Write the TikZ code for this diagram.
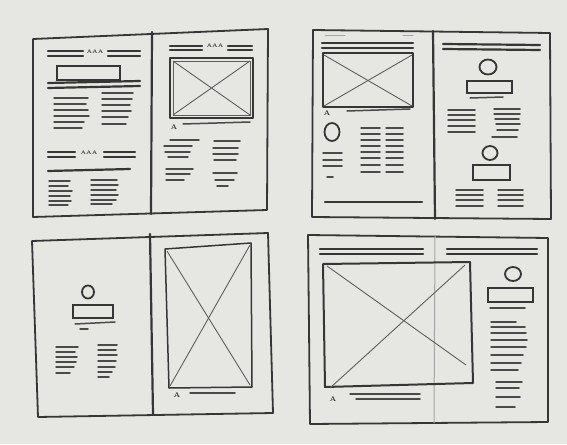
\documentclass[tikz,border=0pt]{standalone}
\usetikzlibrary{positioning}
\definecolor{paper}{HTML}{E6E6E3}
\definecolor{pencil}{HTML}{363636}

\tikzset{
  frame/.style={draw=pencil, line width=1.8pt, line join=round},
  spine/.style={draw=pencil, line width=2.2pt, line cap=round},
  headline/.style={draw=pencil, line width=2.2pt, line cap=round},
  txtline/.style={draw=pencil!90, line width=1.5pt, line cap=round},
  faint/.style={draw=pencil!45, line width=0.8pt, line cap=round},
  photo/.style={draw=pencil, line width=2pt, line join=round},
  cross/.style={draw=pencil!80, line width=0.9pt},
  titlebox/.style={draw=pencil, line width=1.5pt},
  aaa/.style={font=\tiny\bfseries, text=pencil, inner sep=0pt},
  capA/.style={font=\scriptsize\bfseries, text=pencil, inner sep=0pt},
}

\begin{document}
\begin{tikzpicture}[x=1pt,y=-1pt]
  \fill[paper] (0,0) rectangle (567,444);
  \useasboundingbox (0,0) rectangle (567,444);

  % ---------- top left spread ----------
  \draw[frame] (33,39) -- (268,29) -- (267,210) -- (33,217) -- cycle;
  \draw[spine] (152,32) -- (151,214);
  % left page
  \foreach \y in {51,56} {
    \draw[headline] (48,\y) -- (83,\y);
    \draw[headline] (108,\y) -- (140,\y);
  }
  \node[aaa] (tlheadA) at (95,52) {AAA};
  \draw[titlebox] (57,66) rectangle (120,80);
  \draw[headline] (48,83) -- (140,81);
  \draw[headline] (48,88) -- (140,86);
  \foreach \y/\e in {98/88, 104/86, 110/88, 116/89, 122/84, 128/82}
    \draw[txtline] (54,\y) -- (\e,\y);
  \foreach \y/\e in {93/133, 99/132, 105/130, 111/131, 117/128, 124/126}
    \draw[txtline] (102,\y) -- (\e,\y);
  \foreach \y in {152,157} {
    \draw[headline] (48,\y) -- (75,\y);
    \draw[headline] (104,\y) -- (135,\y);
  }
  \node[aaa] (tlheadB) at (89,153) {AAA};
  \draw[headline] (48,171) -- (130,169);
  \foreach \y/\e in {181/70, 186/68, 191/72, 196/70, 201/71, 205/68}
    \draw[txtline] (49,\y) -- (\e,\y);
  \foreach \y/\e in {180/117, 185/118, 190/116, 195/118, 200/116, 204/112}
    \draw[txtline] (91,\y) -- (\e,\y);
  % right page
  \foreach \y in {46,50} {
    \draw[headline] (170,\y) -- (202,\y);
    \draw[headline] (228,\y) -- (252,\y);
  }
  \node[aaa] (trheadA) at (215,46) {AAA};
  \draw[photo] (170,58) rectangle (253,118);
  \draw[cross] (173,61) rectangle (250,115);
  \draw[cross] (173,61) -- (250,115);
  \draw[cross] (250,61) -- (173,115);
  \node[capA] (tlcap) at (174,127) {A};
  \draw[txtline] (183,124) -- (250,122);
  \foreach \y/\s/\e in {140/170/199, 146/164/192, 152/165/190, 157/168/188, 169/166/193, 174/166/190, 180/166/184}
    \draw[txtline] (\s,\y) -- (\e,\y);
  \foreach \y/\s/\e in {141/214/240, 148/213/238, 154/213/238, 160/214/236, 173/213/237, 180/215/234, 186/217/228}
    \draw[txtline] (\s,\y) -- (\e,\y);

  % ---------- top right spread ----------
  \draw[frame] (313,30) -- (550,33) -- (551,219) -- (312,217) -- cycle;
  \draw[spine] (433,31) -- (435,219);
  % left page
  \draw[faint] (325,35) -- (345,35);
  \draw[faint] (403,35) -- (413,35);
  \draw[headline] (322,43) -- (413,43);
  \draw[headline] (322,48) -- (413,48);
  \draw[photo] (323,53) rectangle (413,107);
  \draw[cross] (324,55) -- (412,106);
  \draw[cross] (412,55) -- (324,106);
  \node[capA] (trcap) at (327,113) {A};
  \draw[txtline] (347,111) -- (410,109);
  \draw[frame] (332,132) ellipse [x radius=7.5, y radius=9];
  \foreach \y in {153,160,166}
    \draw[txtline] (323,\y) -- (342,\y);
  \draw[txtline] (327,177) -- (333,177);
  \foreach \y in {128,134,140,146,152,158,165,172} {
    \draw[txtline] (361,\y) -- (380,\y);
    \draw[txtline] (386,\y) -- (403,\y);
  }
  \draw[headline] (325,202) -- (422,202);
  % right page
  \draw[headline] (443,44) -- (540,45);
  \draw[headline] (443,49) -- (540,50);
  \draw[frame] (488,67) ellipse [x radius=8.5, y radius=7.5];
  \draw[titlebox] (467,81) rectangle (512,93);
  \draw[txtline] (470,98) -- (503,97);
  \foreach \y in {110,115,120,126,132}
    \draw[txtline] (448,\y) -- (475,\y);
  \foreach \y/\s/\e in {109/494/520, 114/494/520, 119/495/519, 124/496/520, 130/497/518, 137/492/517}
    \draw[txtline] (\s,\y) -- (\e,\y);
  \draw[frame] (490,153) ellipse [x radius=7.5, y radius=7];
  \draw[titlebox] (473,165) rectangle (510,180);
  \foreach \y in {190,195,200,206} {
    \draw[txtline] (456,\y) -- (483,\y);
    \draw[txtline] (498,\y) -- (523,\y);
  }

  % ---------- bottom left spread ----------
  \draw[frame] (32,241) -- (268,233) -- (273,413) -- (38,417) -- cycle;
  \draw[spine] (150,234) -- (153,414);
  % left page
  \draw[frame] (88,292) ellipse [x radius=6, y radius=6.5];
  \draw[titlebox] (73,305) rectangle (113,318);
  \draw[txtline] (75,324) -- (115,322);
  \draw[txtline] (80,329) -- (88,329);
  \foreach \y/\e in {347/78, 352/75, 357/77, 362/76, 367/74, 373/70}
    \draw[txtline] (56,\y) -- (\e,\y);
  \foreach \y/\e in {345/117, 350/116, 355/117, 361/116, 367/115, 372/112, 377/109}
    \draw[txtline] (98,\y) -- (\e,\y);
  % right page
  \draw[photo, line width=1.5pt] (165,249) -- (251,243) -- (252,387) -- (169,388) -- cycle;
  \draw[cross] (167,251) -- (250,385);
  \draw[cross] (250,245) -- (170,386);
  \node[capA] (blcap) at (177,395) {A};
  \draw[txtline] (190,393) -- (235,393);

  % ---------- bottom right spread ----------
  \draw[frame] (308,235) -- (548,238) -- (548,422) -- (310,424) -- cycle;
  \draw[faint, line width=1pt] (435,236) -- (434,423);
  \foreach \y in {249,254} {
    \draw[headline] (320,\y) -- (423,\y);
    \draw[headline] (447,\y) -- (537,\y);
  }
  % left page
  \draw[photo] (323,264) -- (470,262) -- (473,383) -- (325,387) -- cycle;
  \draw[cross] (327,266) -- (466,365);
  \draw[cross] (465,265) -- (330,388);
  \node[capA] (brcap) at (333,399) {A};
  \draw[txtline] (350,394) -- (420,394);
  \draw[txtline] (356,399) -- (420,399);
  % right page
  \draw[frame] (513,274) ellipse [x radius=8, y radius=7];
  \draw[titlebox] (488,288) rectangle (533,302);
  \draw[txtline] (490,308) -- (525,308);
  \foreach \y/\e in {322/516, 327/525, 333/526, 340/527, 347/526, 355/523, 363/521, 370/518}
    \draw[txtline] (491,\y) -- (\e,\y);
  \foreach \y/\e in {382/522, 388/519, 397/520, 407/515}
    \draw[txtline] (496,\y) -- (\e,\y);
\end{tikzpicture}
\end{document}
